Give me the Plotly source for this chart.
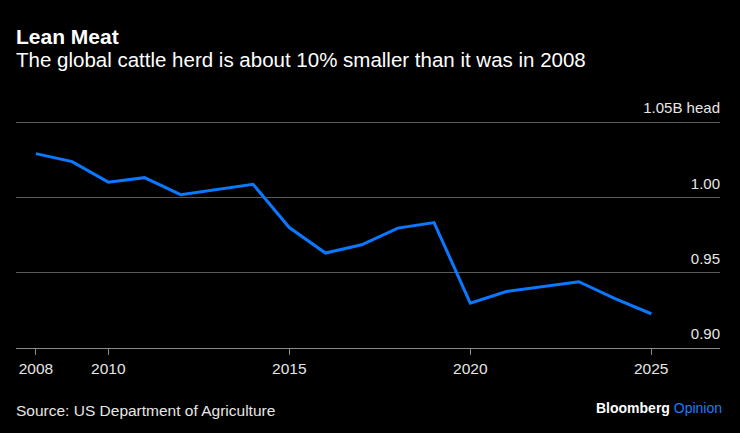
import plotly.graph_objects as go

years = list(range(2008, 2026))
herd_billion_head = [1.0294, 1.0241, 1.0104, 1.0134, 1.0021, 1.0057, 1.0090, 0.9802,
                     0.9632, 0.9687, 0.9798, 0.9835, 0.9299, 0.9376, 0.9406, 0.9441,
                     0.9328, 0.9228]
y_ticks = [0.90, 0.95, 1.00, 1.05]
y_tick_labels = ["0.90", "0.95", "1.00", "1.05B head"]
x_ticks = [2008, 2010, 2015, 2020, 2025]
x_tick_labels = ["2008", "2010", "2015", "2020", "2025"]

FONT = "Liberation Sans, Arial, Helvetica, sans-serif"

W, H = 740, 433
L, R, T, B = 16, 20, 100, 85
Y_RANGE = [0.9, 1.0651]

fig = go.Figure()
fig.add_trace(go.Scatter(
    x=years, y=herd_billion_head, mode="lines",
    line=dict(color="#0a78ff", width=3), hoverinfo="skip", showlegend=False,
))
# invisible copy so the label axis is drawn
fig.add_trace(go.Scatter(
    x=years, y=herd_billion_head, mode="lines", yaxis="y2", opacity=0,
    line=dict(width=0), hoverinfo="skip", showlegend=False,
))

fig.update_layout(
    width=W, height=H,
    paper_bgcolor="black", plot_bgcolor="black",
    margin=dict(l=L, r=R, t=T, b=B),
    font=dict(family=FONT, color="white", size=15),
    xaxis=dict(
        range=[2007.45, 2026.9], tickvals=x_ticks, ticktext=x_tick_labels,
        showgrid=False, zeroline=False,
        showline=True, linecolor="#8a8a8a", linewidth=1,
        ticks="outside", ticklen=6, tickcolor="#8a8a8a", tickwidth=1,
        tickfont=dict(size=15.5, color="#e6e6e6"),
    ),
    yaxis=dict(
        range=Y_RANGE, side="right", tickvals=y_ticks, showticklabels=False,
        showgrid=True, gridcolor="#5a5a5a", gridwidth=1,
        zeroline=False, showline=False, ticks="",
    ),
    yaxis2=dict(
        range=Y_RANGE, overlaying="y", anchor="free", position=1, side="left",
        tickvals=y_ticks, ticktext=y_tick_labels,
        ticklabelposition="outside top", ticklabelshift=-4, ticklabelstandoff=0,
        showgrid=False, zeroline=False, showline=False, ticks="",
        tickfont=dict(size=15, color="#e6e6e6"),
    ),
)

def px_annot(text, x, y, xanchor, size, color):
    fig.add_annotation(
        text=text, x=(x - L) / (W - L - R), y=(H - y - B) / (H - T - B),
        xref="paper", yref="paper", showarrow=False,
        xanchor=xanchor, yanchor="middle",
        font=dict(size=size, color=color, family=FONT),
    )

px_annot("<b>Lean Meat</b>", 14, 36, "left", 21, "white")
px_annot("The global cattle herd is about 10% smaller than it was in 2008", 14, 60, "left", 20.5, "white")
px_annot("Source: US Department of Agriculture", 14, 410, "left", 15.5, "#e6e6e6")
px_annot("<b>Bloomberg</b> <span style='color:#1f7bff'>Opinion</span>", 724, 408, "right", 14, "white")

fig.write_html("out.html", config={"displayModeBar": False})

with open("out.html", encoding="utf-8") as f:
    html = f.read()
html = html.replace("<body>", "<body style=\"margin:0;background:black;\">", 1)
with open("out.html", "w", encoding="utf-8") as f:
    f.write(html)
